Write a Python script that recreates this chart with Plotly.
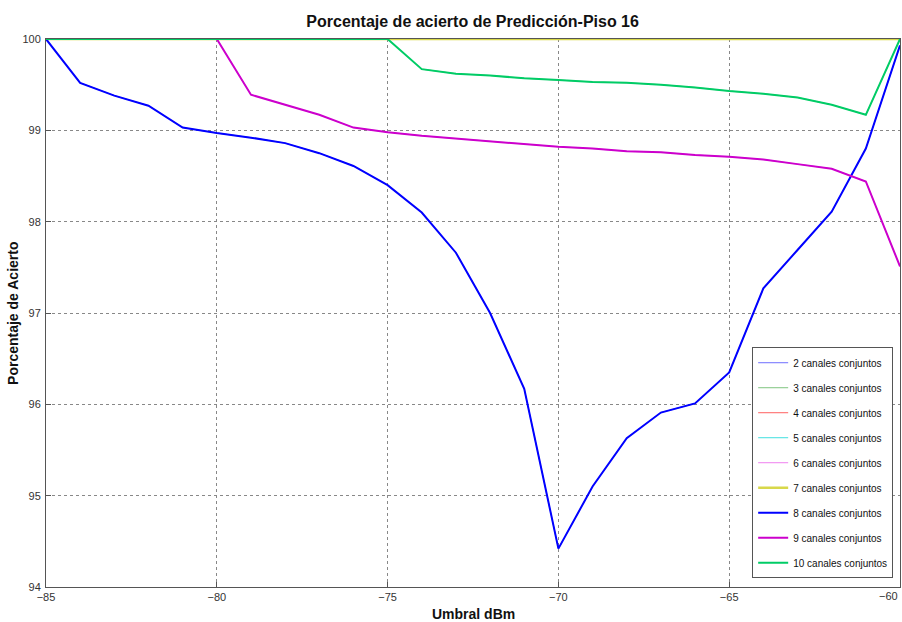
import plotly.graph_objects as go

umbral = list(range(-85, -59))

s8 = [100, 99.52, 99.38, 99.27, 99.03, 98.97, 98.92, 98.86, 98.75, 98.61, 98.40,
      98.10, 97.66, 97.00, 96.17, 94.42, 95.10, 95.63, 95.91, 96.01, 96.35,
      97.27, 97.69, 98.11, 98.80, 99.93]
s9 = [100, 100, 100, 100, 100, 100, 99.39, 99.28, 99.17, 99.03, 98.98,
      98.94, 98.91, 98.88, 98.85, 98.82, 98.80, 98.77, 98.76, 98.73, 98.71,
      98.68, 98.63, 98.58, 98.44, 97.51]
s10 = [100, 100, 100, 100, 100, 100, 100, 100, 100, 100, 100,
       99.67, 99.62, 99.60, 99.57, 99.55, 99.53, 99.52, 99.50, 99.47, 99.43,
       99.40, 99.36, 99.28, 99.17, 100]
s_full = [100] * len(umbral)

names = ["2 canales conjuntos", "3 canales conjuntos", "4 canales conjuntos",
         "5 canales conjuntos", "6 canales conjuntos", "7 canales conjuntos",
         "8 canales conjuntos", "9 canales conjuntos", "10 canales conjuntos"]
series = [s8, s10, s_full, s_full, s9, s_full, s8, s9, s10]
colors = ["#6f6fff", "#7fc47f", "#ff5f5f", "#3fdfdf", "#ef7fef", "#d8d84a",
          "#0000ff", "#cc00cc", "#00cc66"]
widths = [1, 1, 1, 1, 1, 2.4, 2, 2, 2]
x_ticks = list(range(-85, -59, 5))

fig = go.Figure()
for i, (n, s, c, w) in enumerate(zip(names, series, colors, widths)):
    fig.add_trace(go.Scatter(x=umbral, y=s, mode="lines", name=n,
                             line=dict(color=c, width=w), legendgroup=str(i)))

font_fam = "Liberation Sans Narrow, Arial Narrow, Liberation Sans, Arial, sans-serif"
fig.update_layout(
    width=902, height=622,
    margin=dict(l=46, r=2, t=39, b=35),
    paper_bgcolor="white", plot_bgcolor="white",
    font=dict(family=font_fam, color="#222222"),
    title=dict(text="<b>Porcentaje de acierto de Predicción-Piso 16</b>",
               x=0.524, xanchor="center", y=0.966, yanchor="middle",
               font=dict(size=16, color="#111111", family=font_fam)),
    showlegend=True,
    legend=dict(x=0.992, xanchor="right", y=0.016, yanchor="bottom",
                bgcolor="white", bordercolor="#555555", borderwidth=1,
                font=dict(size=10, color="#111111", family=font_fam),
                tracegroupgap=6, itemwidth=30),
    annotations=[
        dict(text="<b>Umbral dBm</b>", xref="paper", yref="paper",
             x=0.5, y=-0.031, xanchor="center", yanchor="top", showarrow=False,
             font=dict(size=14, color="#111111")),
        dict(text="<b>Porcentaje de Acierto</b>", xref="paper", yref="paper",
             x=-0.027, y=0.50, xanchor="right", yanchor="middle", showarrow=False,
             textangle=-90, font=dict(size=14, color="#111111")),
        dict(text=str(x_ticks[-1]).replace("-", "−"), xref="x", yref="paper",
             x=x_ticks[-1], y=0, yanchor="top", xanchor="right", yshift=-1,
             showarrow=False, font=dict(size=11, color="#333333")),
    ],
)
fig.update_xaxes(range=[-85, -60], tickvals=x_ticks,
                 showgrid=True, gridcolor="#888888", griddash="dot", gridwidth=1,
                 showline=True, linecolor="#555555", linewidth=1, mirror=True,
                 ticks="inside", ticklen=5, tickcolor="#555555",
                 tickfont=dict(size=11, color="#333333"), zeroline=False,
                 automargin=False, layer="below traces")
fig.update_yaxes(range=[94, 100], tickvals=list(range(94, 101)),
                 showgrid=True, gridcolor="#888888", griddash="dot", gridwidth=1,
                 showline=True, linecolor="#555555", linewidth=1, mirror=True,
                 ticks="inside", ticklen=5, tickcolor="#555555",
                 tickfont=dict(size=11, color="#333333"), zeroline=False,
                 automargin=False, layer="below traces", ticklabelstandoff=2)

fig.write_html("out.html", config={"displayModeBar": False},
               post_script="document.body.style.margin='0';document.body.style.overflow='hidden';")
